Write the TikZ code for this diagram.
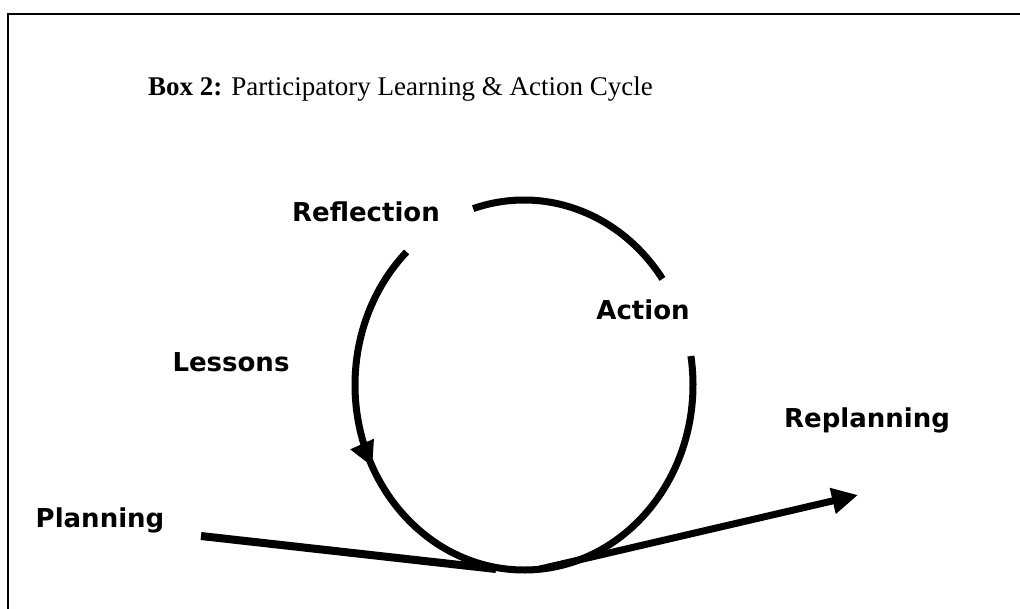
\documentclass[tikz,border=0pt]{standalone}
\usepackage{fontspec}
\setmainfont{Liberation Serif}
\newfontfamily\labelfont{DejaVu Sans}
\usetikzlibrary{arrows.meta,decorations.markings}

\begin{document}
\begin{tikzpicture}[x=1pt, y=-1pt,
    cycleline/.style={line width=7pt},
    steplabel/.style={inner sep=0pt, font=\labelfont\bfseries\fontsize{26}{31}\selectfont},
    bigtip/.style={-{Triangle[length=26pt,width=25pt]}}]
  \useasboundingbox (0,0) rectangle (1020,608);
  \draw[line width=1.6pt] (8,640) |- (1040,14);

  \node (title) at (148,95) [anchor=base west, inner sep=0pt, font=\fontsize{27}{32}\selectfont]
    {\textbf{Box 2:} Participatory Learning \& Action Cycle};

  \coordinate (centre) at (524,385);
  \draw[cycleline] (centre) ++(-107.5:169 and 185)
    arc[start angle=-107.5, end angle=-35, x radius=169, y radius=185];
  \draw[cycleline, postaction={decorate},
        decoration={markings, mark=at position 0.315 with {\arrow{Triangle[length=25pt,width=24pt]}}}]
    (centre) ++(-134:169 and 185)
    arc[start angle=-134, end angle=-369, x radius=169, y radius=185];

  \coordinate (planstart) at (201,536);
  \coordinate (planend) at (496,569);
  \draw[line width=8pt] (planstart) -- (planend);

  \coordinate (replanstart) at (540,569);
  \coordinate (replanend) at (858,495);
  \draw[line width=7pt, bigtip] (replanstart) -- (replanend);

  \node (reflection) at (440,212) [anchor=east, steplabel] {Reflection};
  \node (action) at (643,310) [steplabel] {Action};
  \node (lessons) at (231,362) [steplabel] {Lessons};
  \node (replanning) at (867,420) [steplabel] {Replanning};
  \node (planning) at (100,520) [steplabel] {Planning};
\end{tikzpicture}
\end{document}
